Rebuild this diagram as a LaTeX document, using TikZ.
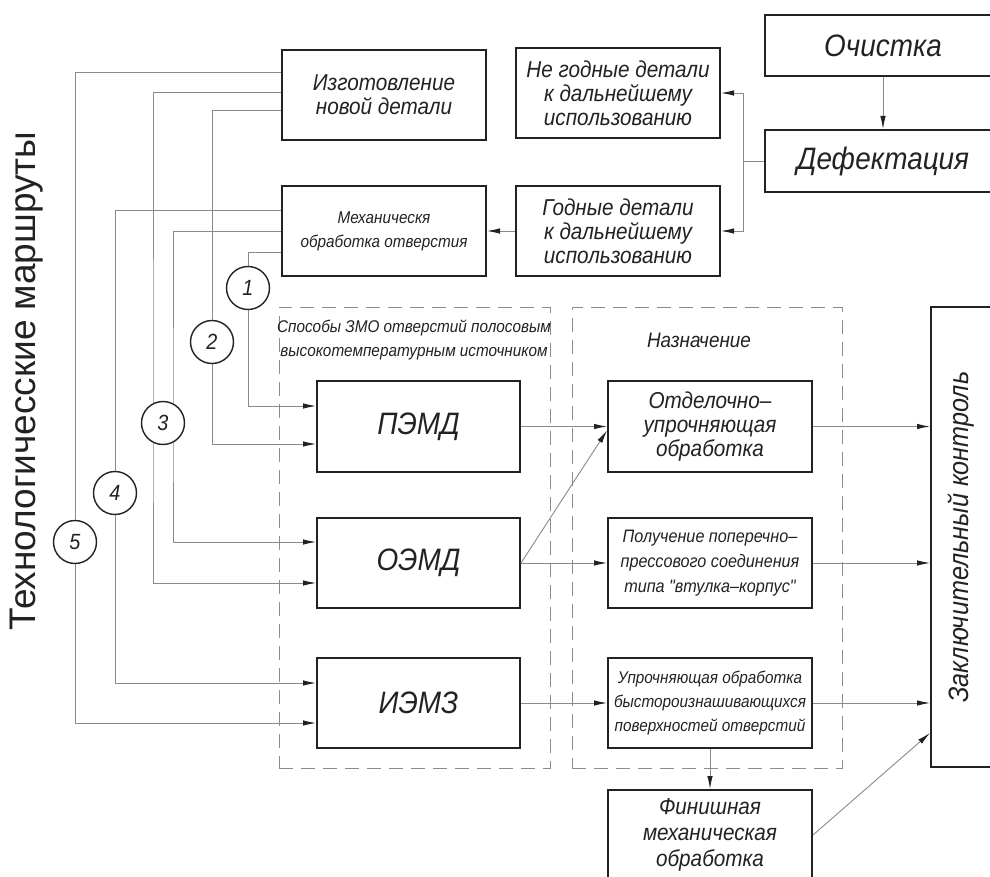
\documentclass[tikz,border=0pt]{standalone}
\usepackage{fontspec}
\setmainfont{Liberation Sans}
\newfontfamily\gost[FakeStretch=0.9]{Liberation Sans}
\usetikzlibrary{arrows.meta}

\definecolor{ink}{HTML}{222222}
\definecolor{wire}{HTML}{8A8A8A}

\begin{document}
\begin{tikzpicture}
  [x=1pt,y=-1pt,
   >={Latex[length=13pt,width=5.5pt,color=ink]},
   every node/.style={text=ink},
   box/.style={draw=ink,line width=2pt,minimum width=204pt,minimum height=90pt,
     inner sep=0pt,align=center,font=\gost\itshape\fontsize{23}{24}\selectfont},
   bigtext/.style={font=\gost\itshape\fontsize{31}{34}\selectfont},
   smalltext/.style={font=\gost\itshape\fontsize{17}{24}\selectfont},
   group/.style={draw=black!45,line width=1pt,dash pattern=on 14pt off 8pt,
     minimum height=461pt,inner sep=0pt},
   num/.style={circle,draw=ink,line width=1.4pt,fill=white,minimum size=43pt,
     inner sep=0pt,font=\gost\itshape\fontsize{22}{22}\selectfont},
   wire/.style={draw=wire,line width=0.9pt},
   route/.style={draw=wire,line width=0.9pt}]
  \useasboundingbox (0,0) rectangle (990,877);

  \node[rotate=90,font=\fontsize{37}{40}\selectfont] (title) at (27,381) {Технологичесские маршруты};

  % upper blocks
  \node[box] (izg) at (384,95) {Изготовление\\новой детали};
  \node[box] (negod) at (618,93) {Не годные детали\\к дальнейшему\\использованию};
  \node[box,smalltext] (mekh) at (384,231) {Механическя\\обработка отверстия};
  \node[box] (god) at (618,231) {Годные детали\\к дальнейшему\\использованию};
  \node[box,bigtext,minimum width=236pt,minimum height=61pt] (ochist) at (883,46) {Очистка};
  \node[box,bigtext,minimum width=236pt,minimum height=62pt] (defekt) at (883,161) {Дефектация};

  % dashed groups
  \node[group,minimum width=271pt] (gsp) at (414.5,537.5) {};
  \node[group,minimum width=270pt] (gnaz) at (707,537.5) {};
  \node[align=center,smalltext] (tsp) at (414,340) {Способы ЗМО отверстий полосовым\\высокотемпературным источником};
  \node[font=\gost\itshape\fontsize{21}{22}\selectfont] (tnaz) at (699,340) {Назначение};

  % methods
  \node[box,bigtext,minimum width=203pt,minimum height=91pt] (pemd) at (418.5,426.5) {ПЭМД};
  \node[box,bigtext,minimum width=203pt] (oemd) at (418.5,563) {ОЭМД};
  \node[box,bigtext,minimum width=203pt] (iemz) at (418.5,703) {ИЭМЗ};

  % purposes
  \node[box,minimum height=91pt] (otd) at (710,426.5) {Отделочно–\\упрочняющая\\обработка};
  \node[box,font=\gost\itshape\fontsize{18}{25}\selectfont] (pol) at (710,563) {Получение поперечно–\\прессового соединения\\типа "втулка–корпус"};
  \node[box,smalltext] (upr) at (710,703) {Упрочняющая обработка\\быстороизнашивающихся\\поверхностей отверстий};
  \node[box,font=\gost\itshape\fontsize{23}{26}\selectfont] (fin) at (710,835) {Финишная\\механическая\\обработка};
  \node[box,minimum width=64pt,minimum height=460pt] (zakl) at (963,537) {};
  \node[rotate=90,font=\gost\itshape\fontsize{28}{30}\selectfont] (tzakl) at (961,537) {Заключительный контроль};

  % connectors
  \draw[wire,->] (ochist) -- (defekt);
  \coordinate (split) at (743,161);
  \draw[wire] (defekt.west) -- (split);
  \foreach \dst in {negod,god}
    \draw[wire,->] (split) |- (\dst.east);
  \draw[wire,->] (god) -- (mekh);
  \foreach \src/\dst in {pemd/otd,oemd/pol,iemz/upr}
    \draw[wire,->] (\src) -- (\dst);
  \draw[wire,->] (oemd.east) -- ([yshift=-4pt]otd.west);
  \draw[wire,->] (upr) -- (fin);
  \foreach \src in {otd,pol,upr}
    \draw[wire,->] (\src.east) -- (\src.east -| zakl.west);
  \draw[wire,->] (fin.east) -- ([yshift=35pt]zakl.south west);

  % routes
  \coordinate (via3a) at (173,423);
  \coordinate (via3b) at (153,423);
  \draw[route,->] (mekh.west) -| (via3a) |- ([yshift=21pt]oemd.west);
  \draw[route,->] ([yshift=3pt]izg.west) -| (via3b) |- ([yshift=-20pt]oemd.west);

  \node[num] (r1) at (248,288) {1};
  \node[num] (r2) at (212,342) {2};
  \node[num] (r3) at (163,423) {3};
  \node[num] (r4) at (115,493) {4};
  \node[num] (r5) at (75,542) {5};

  \foreach \from/\by/\via/\to/\ty in {mekh/-21/r1/pemd/20.5,izg/-15/r2/pemd/-17.5,
      mekh/21/r4/iemz/20,izg/23/r5/iemz/-20}{
    \draw[route] ([yshift=\by pt]\from.west) -| (\via.north);
    \draw[route,->] (\via.south) |- ([yshift=\ty pt]\to.west);
  }

\end{tikzpicture}
\end{document}
